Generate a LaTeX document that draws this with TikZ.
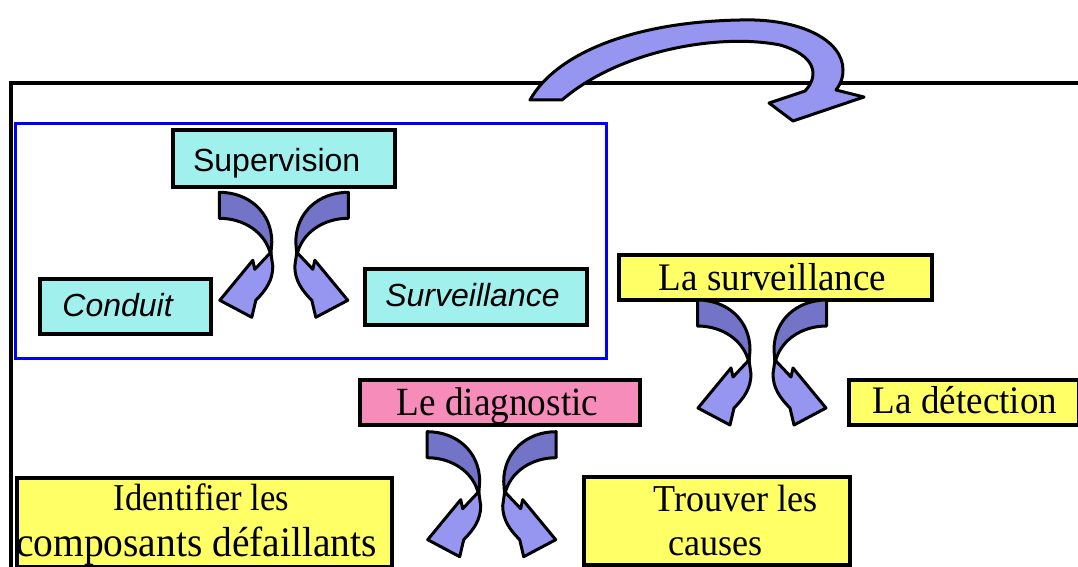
\documentclass[tikz,border=0pt]{standalone}
\usepackage{fontspec}
\setmainfont{Liberation Serif}
\setsansfont{Liberation Sans}
\usepackage{graphicx}
\definecolor{boxcyan}{RGB}{160,240,238}
\definecolor{boxyellow}{RGB}{255,255,102}
\definecolor{boxpink}{RGB}{245,140,185}
\definecolor{arrlight}{RGB}{150,150,240}
\definecolor{arrdark}{RGB}{115,115,200}
\tikzset{
  box/.style={draw=black, line width=3.6pt, inner sep=0pt, anchor=north west},
  cyanbox/.style={box, fill=boxcyan},
  yellowbox/.style={box, fill=boxyellow},
  pinkbox/.style={box, fill=boxpink},
  arrowpart/.style={draw=black, line width=3pt, line join=round},
  txt/.style={inner sep=0pt, anchor=base},
  sanstxt/.style={txt, font=\sffamily\fontsize{32}{38}\selectfont},
  seriftxt/.style={txt, font=\fontsize{39}{44}\selectfont},
}
\newcommand\halfarrow{%
  \filldraw[arrowpart, fill=arrdark] (-64.5,0) .. controls (-35,0) and (-12,20) .. (-12,50)
     -- (-13,63) .. controls (-18,40) and (-40,26) .. (-64.5,26) -- cycle;
  \filldraw[arrowpart, fill=arrlight] (-13,60) -- (-29,77) -- (-31,68) -- (-64,108)
     -- (-32,125) -- (-28,108) .. controls (-18,98) and (-11,88) .. (-11,74) -- cycle;
}
\newcommand\twinarrows[2]{%
  \begin{scope}[shift={(#1,#2)}]
    \halfarrow
    \begin{scope}[xscale=-1]\halfarrow\end{scope}
  \end{scope}}
\begin{document}
\begin{tikzpicture}[x=1pt,y=-1pt]
\useasboundingbox (0,0) rectangle (1078,567);
\fill[white] (0,0) rectangle (1078,567);
% outer frame
\draw[line width=3.2pt] (1078,83) -- (11,83) -- (11,567);
% blue frame
\node[draw=blue, line width=2.8pt, inner sep=0pt, anchor=north west,
      minimum width=591pt, minimum height=235pt] (frame) at (14,122) {};
% boxes
\node[cyanbox, minimum width=222pt, minimum height=57pt] (sup) at (171,128) {};
\node[cyanbox, minimum width=171pt, minimum height=55pt] (con) at (38,277) {};
\node[cyanbox, minimum width=222pt, minimum height=56pt] (sur) at (363,267) {};
\node[yellowbox, minimum width=313pt, minimum height=45pt] (lasur) at (617,253) {};
\node[pinkbox, minimum width=280pt, minimum height=45pt] (diag) at (358,378) {};
\node[yellowbox, minimum width=230pt, minimum height=45pt] (det) at (847,378) {};
\node[yellowbox, minimum width=375pt, minimum height=89pt] (ident) at (15,476) {};
\node[yellowbox, minimum width=266pt, minimum height=88pt] (trouv) at (582,475) {};
% texts
\node[sanstxt] (tsup) at (276.7,171.7) {Supervision};
\node[sanstxt] (tcon) at (117.6,316.7) {\itshape Conduit};
\node[sanstxt] (tsur) at (472.5,306.7) {\itshape Surveillance};
\node[seriftxt] (tlasur) at (772.5,290) {\scalebox{0.95}[1]{La surveillance}};
\node[seriftxt] (tdet) at (965,413) {\scalebox{0.95}[1]{La détection}};
\node[txt, font=\fontsize{40}{44}\selectfont] (tdiag) at (497.5,415) {\scalebox{0.93}[1]{Le diagnostic}};
\node[txt, font=\fontsize{38}{42}\selectfont] (tid1) at (201.5,510) {\scalebox{0.91}[1]{Identifier les}};
\node[txt, font=\fontsize{42}{48}\selectfont] (tid2) at (196.5,556.7) {\scalebox{0.94}[1]{composants défaillants}};
\node[txt, font=\fontsize{38}{42}\selectfont] (ttr1) at (735.8,511.7) {\scalebox{0.95}[1]{Trouver les}};
\node[txt, font=\fontsize{38}{42}\selectfont] (ttr2) at (715.5,555) {\scalebox{0.95}[1]{causes}};
% twin curved arrows
\twinarrows{283.8}{192.3}
\twinarrows{762}{300}
\twinarrows{491.7}{431.7}
% big curved arrow
\filldraw[arrowpart, fill=arrlight]
  (530,100) .. controls (555,55) and (630,22) .. (740,20)
  .. controls (800,18) and (843,40) .. (843,70)
  .. controls (843,80) and (839,86) .. (836,90)
  -- (864,97) -- (793,121) -- (769,103) -- (805,91)
  .. controls (820,75) and (815,55) .. (780,45)
  .. controls (720,33) and (620,50) .. (562,100) -- cycle;
\end{tikzpicture}
\end{document}
